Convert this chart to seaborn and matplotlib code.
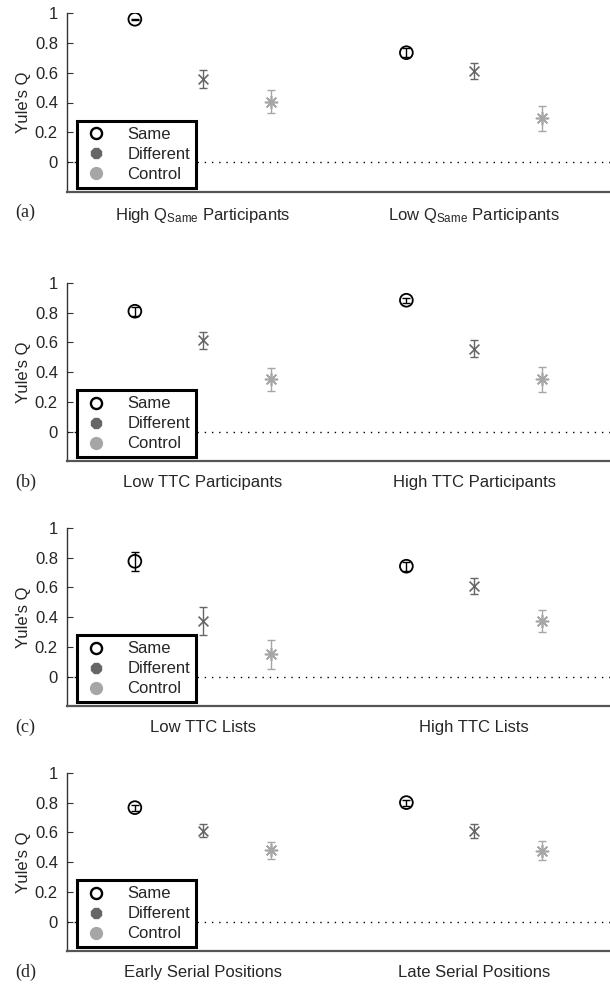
import numpy as np
import pandas as pd
import matplotlib
matplotlib.use("Agg")
import matplotlib.pyplot as plt
from matplotlib.lines import Line2D
import seaborn as sns

# ---------------- data ----------------
panel_tags = ["(a)", "(b)", "(c)", "(d)"]
group_labels = [
    [r"High Q$_{\mathrm{Same}}$ Participants", r"Low Q$_{\mathrm{Same}}$ Participants"],
    ["Low TTC Participants", "High TTC Participants"],
    ["Low TTC Lists", "High TTC Lists"],
    ["Early Serial Positions", "Late Serial Positions"],
]
conditions = ["Same", "Different", "Control"]

same_q = [[0.96, 0.735], [0.81, 0.884], [0.776, 0.743], [0.767, 0.801]]
same_err = [[0.004, 0.03], [0.03, 0.018], [0.062, 0.03], [0.02, 0.02]]
diff_q = [[0.556, 0.612], [0.615, 0.559], [0.374, 0.609], [0.611, 0.611]]
diff_err = [[0.06, 0.056], [0.058, 0.056], [0.097, 0.054], [0.043, 0.047]]
ctrl_q = [[0.406, 0.294], [0.351, 0.351], [0.15, 0.374], [0.481, 0.477]]
ctrl_err = [[0.076, 0.084], [0.077, 0.083], [0.096, 0.076], [0.058, 0.065]]

ytick_vals = [0, 0.2, 0.4, 0.6, 0.8, 1]
ytick_text = ["0", "0.2", "0.4", "0.6", "0.8", "1"]

# ---------------- build table ----------------
vals = {"Same": (same_q, same_err), "Different": (diff_q, diff_err), "Control": (ctrl_q, ctrl_err)}
offsets = {"Same": -0.25, "Different": 0.0, "Control": 0.25}
rows = []
for p in range(4):
    for g in range(2):
        for c in conditions:
            q, e = vals[c]
            rows.append(dict(panel=p, group=g, cond=c, x=g + 1 + offsets[c], q=q[p][g], err=e[p][g]))
df = pd.DataFrame(rows)

# ---------------- style ----------------
sns.set_theme(style="white")
plt.rcParams["font.family"] = ["Liberation Sans", "DejaVu Sans"]
plt.rcParams["mathtext.fontset"] = "custom"
plt.rcParams["mathtext.rm"] = "Liberation Sans"
plt.rcParams["mathtext.it"] = "Liberation Sans:italic"

col_diff = "#666666"
col_ctrl = "#a6a6a6"
style = {
    "Same": dict(marker="o", s=85, color="black", facecolor="none", edgecolor="black", linewidth=1.3, ecolor="black"),
    "Different": dict(marker="x", s=50, color=col_diff, linewidth=1.2, ecolor=col_diff),
    "Control": dict(marker=(8, 2, 0), s=75, color=col_ctrl, linewidth=1.2, ecolor=col_ctrl),
}

W, H = 610, 985
fig = plt.figure(figsize=(W / 100, H / 100), dpi=100)

ax_top_px = [13.3, 283.0, 528.0, 773.0]
ax_h_px = 178.4
ax_left_px = 67.0

for p in range(4):
    top = ax_top_px[p]
    bottom = top + ax_h_px
    ax = fig.add_axes([ax_left_px / W, 1 - bottom / H, (W - ax_left_px) / W, ax_h_px / H])
    sub = df[df.panel == p]
    ax.axhline(0, color="black", lw=1.0, ls=(0, (1, 4.2)), zorder=1)
    for c in conditions:
        d = sub[sub.cond == c]
        st = dict(style[c])
        ecol = st.pop("ecolor")
        ax.errorbar(d["x"], d["q"], yerr=d["err"], fmt="none", ecolor=ecol,
                    elinewidth=1.0, capsize=2.8, capthick=1.0, zorder=2)
        sns.scatterplot(data=d, x="x", y="q", ax=ax, legend=False, zorder=3, **st)

    ax.set_xlim(0.5, 2.5)
    ax.set_ylim(-0.2, 1.0)
    ax.set_xticks([1, 2])
    ax.set_xticklabels(group_labels[p], fontsize=12)
    ax.set_yticks(ytick_vals)
    ax.set_yticklabels(ytick_text, fontsize=12)
    ax.set_xlabel("")
    ax.set_ylabel("Yule's Q", fontsize=12)
    ax.yaxis.set_label_coords(-0.066, 0.5)
    ax.tick_params(axis="x", length=0, pad=10)
    ax.tick_params(axis="y", direction="in", length=4, width=0.8, color="#333333", pad=6.5, left=True)
    for s in ["top", "right"]:
        ax.spines[s].set_visible(False)
    ax.spines["left"].set_color("#333333")
    ax.spines["left"].set_linewidth(1.0)
    ax.spines["bottom"].set_color("#555555")
    ax.spines["bottom"].set_linewidth(1.6)

    handles = [
        Line2D([], [], ls="none", marker="o", mfc="none", mec="black", mew=1.7, ms=8),
        Line2D([], [], ls="none", marker="8", mfc=col_diff, mec=col_diff, ms=8.5),
        Line2D([], [], ls="none", marker="o", mfc=col_ctrl, mec=col_ctrl, ms=8.5),
    ]
    leg = ax.legend(handles, conditions, loc="lower left", bbox_to_anchor=(0.0184, 0.022),
                    borderaxespad=0, fontsize=12, frameon=True, fancybox=False,
                    borderpad=0.36, labelspacing=0.3, handlelength=1.6, handletextpad=1.05,
                    edgecolor="black", facecolor="white", framealpha=1)
    leg.get_frame().set_linewidth(2.2)

    fig.text(15 / W, 1 - (bottom + 21) / H, panel_tags[p], fontsize=13,
             family=["Liberation Serif", "DejaVu Serif"], ha="left", va="center")

fig.savefig("out.png", dpi=100)
